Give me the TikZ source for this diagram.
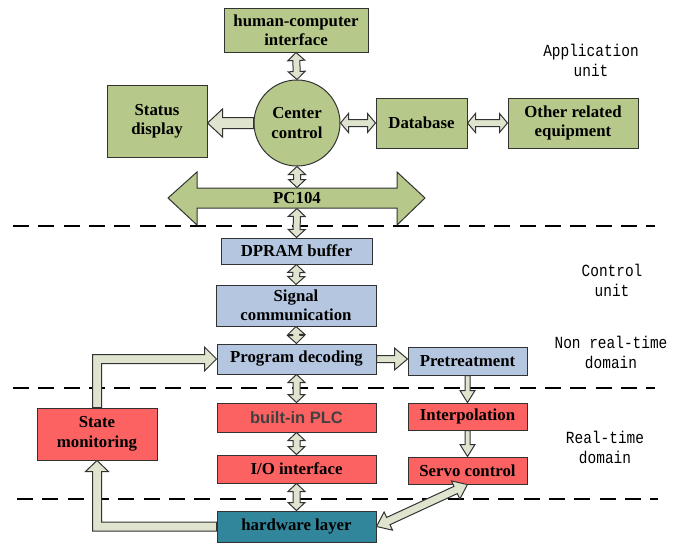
\documentclass[tikz,border=0pt]{standalone}
\usepackage{fontspec}
\setmainfont{Liberation Serif}
\newfontfamily\labelfont[FakeStretch=0.85]{Liberation Mono}
\newfontfamily\plcfont{Liberation Sans}
\usepackage{tikz}
\usetikzlibrary{calc}
\definecolor{appgreen}{RGB}{182,201,139}
\definecolor{ctrlblue}{RGB}{181,199,224}
\definecolor{rtred}{RGB}{252,98,98}
\definecolor{hwteal}{RGB}{49,134,155}
\definecolor{arrowfill}{RGB}{222,228,205}
\definecolor{edge}{RGB}{50,50,50}
\tikzstyle{unitbox} = [rectangle, draw=edge, line width=0.75pt, inner sep=0pt, align=center, font=\fontsize{12.6}{14.6}\selectfont\bfseries]
\tikzstyle{appbox} = [unitbox, fill=appgreen]
\tikzstyle{ctrlbox} = [unitbox, fill=ctrlblue]
\tikzstyle{rtbox} = [unitbox, fill=rtred]
\tikzstyle{hwbox} = [unitbox, fill=hwteal]
\tikzstyle{blockarr} = [draw=edge, fill=arrowfill, line width=0.75pt, line join=miter]
\tikzstyle{divider} = [line width=1.2pt, dash pattern=on 12pt off 7pt]
\tikzstyle{layerlabel} = [align=center, font=\labelfont\fontsize{12.75}{15}\selectfont]
% block arrows: [style]{from}{to}{shaft width}{head width}{head length}, sizes in px
\newcommand{\arrsetup}[5]{%
  \path (#1); \pgfgetlastxy{\arrXa}{\arrYa}%
  \path (#2); \pgfgetlastxy{\arrXb}{\arrYb}%
  \pgfmathsetmacro\arrAng{atan2(\arrYb-\arrYa,\arrXb-\arrXa)}%
  \pgfmathsetmacro\arrLen{veclen(\arrXb-\arrXa,\arrYb-\arrYa)}%
  \pgfmathsetmacro\arrS{#3*0.375}%
  \pgfmathsetmacro\arrH{#4*0.375}%
  \pgfmathsetmacro\arrT{#5*0.75}%
  \pgfmathsetmacro\arrM{\arrLen-#5*0.75}}
\newcommand{\sglarrow}[6][]{%
  \arrsetup{#2}{#3}{#4}{#5}{#6}%
  \begin{scope}[shift={(\arrXa,\arrYa)}, rotate=\arrAng]
    \draw[blockarr,#1] (0pt,-\arrS pt) -- (\arrM pt,-\arrS pt) -- (\arrM pt,-\arrH pt) -- (\arrLen pt,0pt)
      -- (\arrM pt,\arrH pt) -- (\arrM pt,\arrS pt) -- (0pt,\arrS pt) -- cycle;
  \end{scope}}
\newcommand{\dblarrow}[6][]{%
  \arrsetup{#2}{#3}{#4}{#5}{#6}%
  \begin{scope}[shift={(\arrXa,\arrYa)}, rotate=\arrAng]
    \draw[blockarr,#1] (0pt,0pt) -- (\arrT pt,-\arrH pt) -- (\arrT pt,-\arrS pt) -- (\arrM pt,-\arrS pt)
      -- (\arrM pt,-\arrH pt) -- (\arrLen pt,0pt) -- (\arrM pt,\arrH pt) -- (\arrM pt,\arrS pt)
      -- (\arrT pt,\arrS pt) -- (\arrT pt,\arrH pt) -- cycle;
  \end{scope}}

\begin{document}
\begin{tikzpicture}[x=0.75pt, y=-0.75pt]
    \useasboundingbox (0,0) rectangle (684,543);

    % Layer dividers
    \draw[divider] (13,226) -- (655,226);
    \draw[divider] (13,388) -- (655,388);
    \draw[divider] (17,499) -- (658,499);

    % Application unit
    \node[appbox, minimum width=108pt, minimum height=33pt] (hci) at (296,30) {human-computer\\interface};
    \node[appbox, minimum width=75pt, minimum height=54pt] (status) at (157,121) {Status\\display};
    \node[appbox, circle, minimum size=64.5pt] (center) at (297,123) {Center\\control};
    \node[appbox, minimum width=68.25pt, minimum height=37.5pt] (database) at (421.5,123) {Database};
    \node[appbox, minimum width=97.5pt, minimum height=37.5pt] (other) at (573,123) {Other related\\equipment};

    % PC104 bus
    \coordinate (buspos) at (297,198);
    \draw[draw=edge, fill=appgreen, line width=0.75pt] ($(buspos)+(-100,-10)$) -- ($(buspos)+(100,-10)$)
        -- ($(buspos)+(100,-26)$) -- ($(buspos)+(128,0)$) -- ($(buspos)+(100,27)$) -- ($(buspos)+(100,10)$)
        -- ($(buspos)+(-100,10)$) -- ($(buspos)+(-100,27)$) -- ($(buspos)+(-129,0)$) -- ($(buspos)+(-100,-26)$) -- cycle;
    \node[unitbox, draw=none, minimum width=150pt, minimum height=15pt] (bus) at (buspos) {PC104};

    % Control unit, non real-time domain
    \node[ctrlbox, minimum width=113.25pt, minimum height=19.5pt] (dpram) at (296.5,251) {DPRAM buffer};
    \node[ctrlbox, minimum width=120pt, minimum height=30.75pt] (signal) at (296,305.5) {Signal\\communication};
    \node[ctrlbox, minimum width=119.25pt, minimum height=22.5pt] (decoding) at (296.5,359) {Program decoding};
    \node[ctrlbox, minimum width=89.25pt, minimum height=21pt] (pretreat) at (467.5,361) {Pretreatment};

    % Real-time domain
    \node[rtbox, minimum width=119.25pt, minimum height=21.75pt, text=black!75, font=\plcfont\fontsize{12.4}{14}\selectfont\bfseries] (plc) at (296.5,417.5) {built-in PLC};
    \node[rtbox, minimum width=89.25pt, minimum height=20.25pt] (interp) at (467.5,416.5) {Interpolation};
    \node[rtbox, minimum width=90pt, minimum height=39pt] (monitor) at (97,434) {State\\monitoring};
    \node[rtbox, minimum width=119.25pt, minimum height=21pt] (io) at (296.5,469) {I/O interface};
    \node[rtbox, minimum width=89.25pt, minimum height=20.25pt] (servo) at (467.5,470.5) {Servo control};

    % Hardware
    \node[hwbox, minimum width=119.25pt, minimum height=23.25pt] (hardware) at (296.5,526.5) {hardware layer};

    % Layer labels
    \node[layerlabel] (appunit) at (591,60) {Application\\unit};
    \node[layerlabel] (ctrlunit) at (612,280) {Control\\unit};
    \node[layerlabel] (nrtdomain) at (611,352) {Non real-time\\domain};
    \node[layerlabel] (rtdomain) at (605,447) {Real-time\\domain};

    % Data paths
    \dblarrow{hci.south}{center.north}{7}{17}{8}
    \sglarrow{center.west}{status.east |- center.west}{11}{28}{15}
    \dblarrow{center.east}{database.west}{7}{19}{8}
    \dblarrow{database.east}{other.west}{7}{19}{8}
    \dblarrow{center.south}{bus.north}{7}{17}{8}
    \dblarrow{bus.south}{dpram.north}{7}{17}{8}
    \dblarrow{dpram.south}{signal.north}{7}{17}{8}
    \dblarrow{signal.south}{decoding.north}{7}{17}{8}
    \dblarrow{decoding.south}{plc.north}{7}{17}{8}
    \dblarrow{plc.south}{io.north}{7}{17}{8}
    \dblarrow{io.south}{hardware.north}{7}{17}{8}
    \sglarrow{decoding.east}{pretreat.west |- decoding.east}{7}{22}{13}
    \sglarrow{pretreat.south}{interp.north}{5}{15}{12}
    \sglarrow{interp.south}{servo.north}{5}{15}{12}
    \dblarrow{hardware.east}{servo.south}{8}{20}{13}

    % Feedback loop
    \coordinate (hwcorner) at (monitor.south |- hardware.west);
    \draw[blockarr] ($(hardware.west)+(0,-4.5)$) -- ($(hwcorner)+(4.5,-4.5)$) -- ($(monitor.south)+(4.5,11)$)
        -- ($(monitor.south)+(11.5,11)$) -- (monitor.south) -- ($(monitor.south)+(-11.5,11)$)
        -- ($(monitor.south)+(-4.5,11)$) -- ($(hwcorner)+(-4.5,4.5)$) -- ($(hardware.west)+(0,4.5)$) -- cycle;
    \coordinate (smcorner) at (monitor.north |- decoding.west);
    \draw[blockarr] ($(monitor.north)+(-4.5,0)$) -- ($(smcorner)+(-4.5,-4.5)$) -- ($(decoding.west)+(-12,-4.5)$)
        -- ($(decoding.west)+(-12,-12)$) -- (decoding.west) -- ($(decoding.west)+(-12,12)$)
        -- ($(decoding.west)+(-12,4.5)$) -- ($(smcorner)+(4.5,4.5)$) -- ($(monitor.north)+(4.5,0)$) -- cycle;
\end{tikzpicture}
\end{document}
